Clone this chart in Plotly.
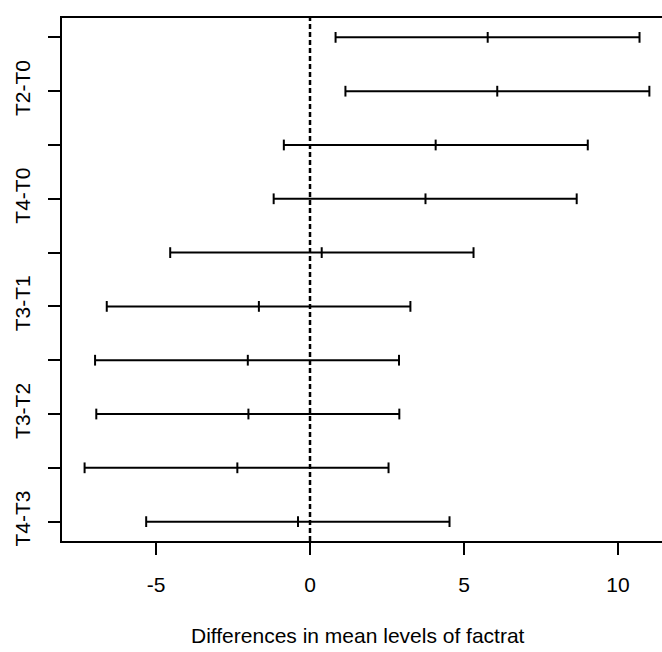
import plotly.graph_objects as go

# Tukey HSD family-wise confidence intervals for factrat
comparisons = ["T1-T0", "T2-T0", "T3-T0", "T4-T0", "T2-T1",
               "T3-T1", "T4-T1", "T3-T2", "T4-T2", "T4-T3"]
diff = [5.77, 6.08, 4.08, 3.75, 0.38, -1.66, -2.02, -2.00, -2.36, -0.39]
lwr = [0.83, 1.15, -0.85, -1.18, -4.54, -6.60, -6.98, -6.94, -7.32, -5.32]
upr = [10.70, 11.02, 9.02, 8.66, 5.31, 3.26, 2.89, 2.90, 2.55, 4.53]

x_ticks = [-5, 0, 5, 10]
x_tick_labels = ["-5", "0", "5", "10"]

n = len(comparisons)
yvals = list(range(n, 0, -1))  # first comparison at the top
cap = 0.1

# horizontal interval segments
sx, sy = [], []
for lo, hi, y in zip(lwr, upr, yvals):
    sx += [lo, hi, None]
    sy += [y, y, None]

# short vertical marks at lower bound, estimate and upper bound
vx, vy = [], []
for vals in (lwr, diff, upr):
    for v, y in zip(vals, yvals):
        vx += [v, v, None]
        vy += [y - cap, y + cap, None]

line_style = dict(color="black", width=2)
fig = go.Figure()
fig.add_trace(go.Scatter(x=sx, y=sy, mode="lines", line=line_style,
                         hoverinfo="skip", showlegend=False))
fig.add_trace(go.Scatter(x=vx, y=vy, mode="lines", line=line_style,
                         hoverinfo="skip", showlegend=False))

# reference line at zero difference
fig.add_shape(type="line", xref="x", yref="paper", x0=0, x1=0, y0=0, y1=1,
              line=dict(color="black", width=2.5, dash="5px,3px"))

span = max(upr) - min(lwr)
x_lo = min(lwr) - 0.04 * span
y_span = max(yvals) - min(yvals)
y_lo = min(yvals) - 0.04 * y_span
y_hi = max(yvals) + 0.04 * y_span

ticktext = [c if i % 2 == 1 else "" for i, c in enumerate(comparisons)]

font = dict(family="Liberation Sans, Arial, sans-serif", size=21, color="black")

fig.update_layout(
    width=662, height=652,
    margin=dict(l=62, r=0, t=18, b=111),
    paper_bgcolor="white", plot_bgcolor="white",
    font=font,
    xaxis=dict(range=[x_lo, 11.43], tickvals=x_ticks, ticktext=x_tick_labels,
               showline=True, linecolor="black", linewidth=2, mirror=True,
               ticks="outside", ticklen=12, tickwidth=2, tickcolor="black",
               showgrid=False, zeroline=False, ticklabelstandoff=12,
               tickfont=font),
    yaxis=dict(range=[y_lo, y_hi], tickvals=yvals, ticktext=ticktext,
               tickangle=-90, showline=True, linecolor="black", linewidth=2,
               ticks="outside", ticklen=12, tickwidth=2, tickcolor="black",
               showgrid=False, zeroline=False, ticklabelstandoff=10,
               tickfont=font),
)

fig.add_annotation(text="Differences in mean levels of factrat",
                   xref="paper", yref="paper", x=(358 - 62) / 600, y=-0.1816,
                   xanchor="center", yanchor="middle", showarrow=False,
                   font=font)

fig.write_html("out.html")
